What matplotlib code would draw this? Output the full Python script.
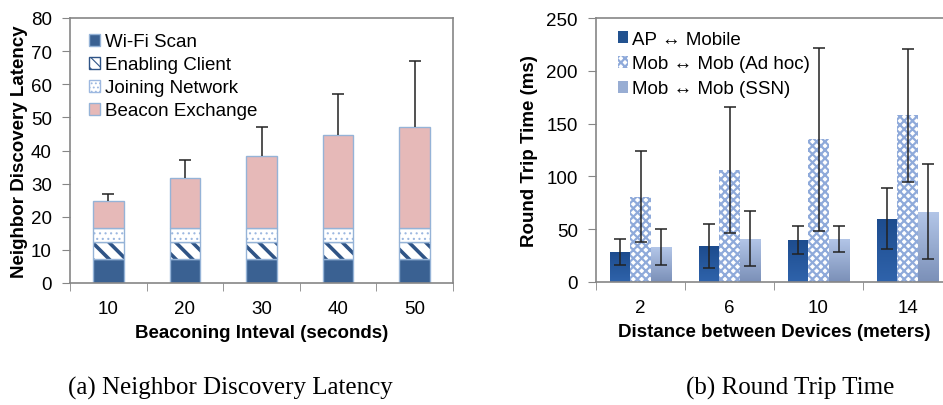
import numpy as np
import matplotlib
matplotlib.use('Agg')
import matplotlib.pyplot as plt
from matplotlib.patches import Patch

plt.rcParams['font.family'] = ['Liberation Sans', 'DejaVu Sans']

# (a) neighbor discovery latency
intervals = ['10', '20', '30', '40', '50']
wifi_scan = [7.3, 7.3, 7.3, 7.3, 7.3]
enabling_client = [5.2, 5.2, 5.2, 5.2, 5.2]
joining_network = [4.0, 4.0, 4.0, 4.0, 4.0]
beacon_exchange = [8.2, 15.3, 21.7, 28.2, 30.7]
latency_err = [2.3, 5.2, 8.8, 12.3, 19.8]

# (b) round trip time
distances = ['2', '6', '10', '14']
rtt_ap = [28.4, 34, 40, 60]
rtt_ap_err = [12, 20.5, 13.5, 29]
rtt_adhoc = [80.6, 106, 135, 158]
rtt_adhoc_err = [43, 60, 87, 63]
rtt_ssn = [33, 41, 41, 66.7]
rtt_ssn_err = [17, 26, 12.5, 45]

W, H = 943, 406
fig = plt.figure(figsize=(W / 100, H / 100), dpi=100)
spine_col = '#868686'
edge_col = '#95B3D7'
FS = 13.5


def style_axes(ax):
    for s in ax.spines.values():
        s.set_color(spine_col)
        s.set_linewidth(1.2)
    ax.tick_params(axis='y', direction='out', length=6, color=spine_col, labelsize=FS, pad=7)
    ax.tick_params(axis='x', which='major', length=0, labelsize=FS, pad=12)
    ax.tick_params(axis='x', which='minor', direction='out', length=6, color=spine_col)


# ---------- left chart ----------
ax1 = fig.add_axes([70 / W, 1 - 284 / H, 383 / W, 265 / H])
x = np.arange(len(intervals))
bw = 0.4
b1 = np.array(wifi_scan)
b2 = b1 + np.array(enabling_client)
b3 = b2 + np.array(joining_network)
total = b3 + np.array(beacon_exchange)

ax1.bar(x, wifi_scan, bw, color='#3A6192', edgecolor=edge_col, linewidth=1)
plt.rcParams['hatch.linewidth'] = 2.6
ax1.bar(x, enabling_client, bw, bottom=b1, color='white', edgecolor='#2F5486',
        hatch='\\\\', linewidth=0)
ax1.bar(x, enabling_client, bw, bottom=b1, fill=False, edgecolor=edge_col, linewidth=1)
plt.rcParams['hatch.linewidth'] = 0.8
ax1.bar(x, joining_network, bw, bottom=b2, color='white', edgecolor='#9DB8E0',
        hatch='...', linewidth=0)
ax1.bar(x, joining_network, bw, bottom=b2, fill=False, edgecolor=edge_col, linewidth=1)
ax1.bar(x, beacon_exchange, bw, bottom=b3, color='#E6B9B8', edgecolor=edge_col, linewidth=1)
eb = ax1.errorbar(x, total, yerr=[np.zeros(len(x)), latency_err], fmt='none',
                  ecolor='#222222', elinewidth=1.1, capsize=4, capthick=1.1)
eb[1][0].set_visible(False)

ax1.set_xlim(-0.5, len(x) - 0.5)
ax1.set_ylim(0, 80)
ax1.set_yticks(range(0, 81, 10))
ax1.set_xticks(x)
ax1.set_xticklabels(intervals)
ax1.set_xticks(np.arange(-0.5, len(x)), minor=True)
style_axes(ax1)
ax1.set_xlabel('Beaconing Inteval (seconds)', fontsize=FS, fontweight='bold', labelpad=5)
ax1.set_ylabel('Neighbor Discovery Latency', fontsize=FS, fontweight='bold', labelpad=2)

plt.rcParams['hatch.linewidth'] = 2.0
h_en = Patch(facecolor='white', edgecolor='#2F5486', hatch='\\\\\\')
plt.rcParams['hatch.linewidth'] = 0.8
h_jn = Patch(facecolor='white', edgecolor='#9DB8E0', hatch='....')
handles1 = [
    Patch(facecolor='#3A6192', edgecolor=edge_col),
    h_en,
    h_jn,
    Patch(facecolor='#E6B9B8', edgecolor=edge_col),
]
ax1.legend(handles1, ['Wi-Fi Scan', 'Enabling Client', 'Joining Network', 'Beacon Exchange'],
           loc='upper left', bbox_to_anchor=(0.02, 0.985), frameon=False, fontsize=FS,
           handlelength=0.6, handleheight=0.6, handletextpad=0.25, labelspacing=0.32,
           borderaxespad=0.2)

# ---------- right chart ----------
ax2 = fig.add_axes([596 / W, 1 - 283 / H, 356 / W, 264 / H])
x2 = np.arange(len(distances))
bw2 = 0.225


def gradient_bars(ax, bars, top_col, bot_col):
    cmap = matplotlib.colors.LinearSegmentedColormap.from_list('g', [bot_col, top_col])
    for b in bars:
        bx, by = b.get_x(), b.get_y()
        bwid, bh = b.get_width(), b.get_height()
        grad = np.linspace(0, 1, 64).reshape(-1, 1)
        im = ax.imshow(grad, cmap=cmap, aspect='auto', origin='lower',
                       extent=[bx, bx + bwid, by, by + bh], zorder=b.get_zorder())
        im.set_clip_path(b)


bars_ap = ax2.bar(x2 - bw2, rtt_ap, bw2, color='#2A5A9C', linewidth=0)
gradient_bars(ax2, bars_ap, '#1D4C8E', '#2F63AB')
plt.rcParams['hatch.linewidth'] = 1.6
ax2.bar(x2, rtt_adhoc, bw2, color='white', edgecolor='#8FAADA', hatch='xxxx', linewidth=0)
h_ah = Patch(facecolor='white', edgecolor='#8FAADA', hatch='xxxx', linewidth=0)
bars_ssn = ax2.bar(x2 + bw2, rtt_ssn, bw2, color='#9FB4DA', linewidth=0)
gradient_bars(ax2, bars_ssn, '#B3C6E8', '#7B90B8')

for off, vals, errs in [(-bw2, rtt_ap, rtt_ap_err), (0, rtt_adhoc, rtt_adhoc_err),
                        (bw2, rtt_ssn, rtt_ssn_err)]:
    ax2.errorbar(x2 + off, vals, yerr=errs, fmt='none', ecolor='#222222',
                 elinewidth=1.1, capsize=4, capthick=1.1, zorder=5)

ax2.set_xlim(-0.5, len(x2) - 0.5)
ax2.set_ylim(0, 250)
ax2.set_yticks(range(0, 251, 50))
ax2.set_xticks(x2)
ax2.set_xticklabels(distances)
ax2.set_xticks(np.arange(-0.5, len(x2)), minor=True)
style_axes(ax2)
ax2.set_xlabel('Distance between Devices (meters)', fontsize=FS, fontweight='bold', labelpad=5)
ax2.set_ylabel('Round Trip Time (ms)', fontsize=FS, fontweight='bold', labelpad=6)

handles2 = [
    Patch(facecolor='#22528F', edgecolor='none'),
    h_ah,
    Patch(facecolor='#98ADD3', edgecolor='none'),
]
ax2.legend(handles2, ['AP \u2194 Mobile', 'Mob \u2194 Mob (Ad hoc)', 'Mob \u2194 Mob (SSN)'],
           loc='upper left', bbox_to_anchor=(0.03, 0.995), frameon=False, fontsize=FS,
           handlelength=0.55, handleheight=0.6, handletextpad=0.2, labelspacing=0.42,
           borderaxespad=0.2)

# captions
fig.text(230 / W, 1 - 388 / H, '(a) Neighbor Discovery Latency', ha='center', va='center',
         fontsize=18, family=['Liberation Serif', 'DejaVu Serif'])
fig.text(790 / W, 1 - 388 / H, '(b) Round Trip Time', ha='center', va='center',
         fontsize=18, family=['Liberation Serif', 'DejaVu Serif'])

fig.savefig('out.png', dpi=100)
